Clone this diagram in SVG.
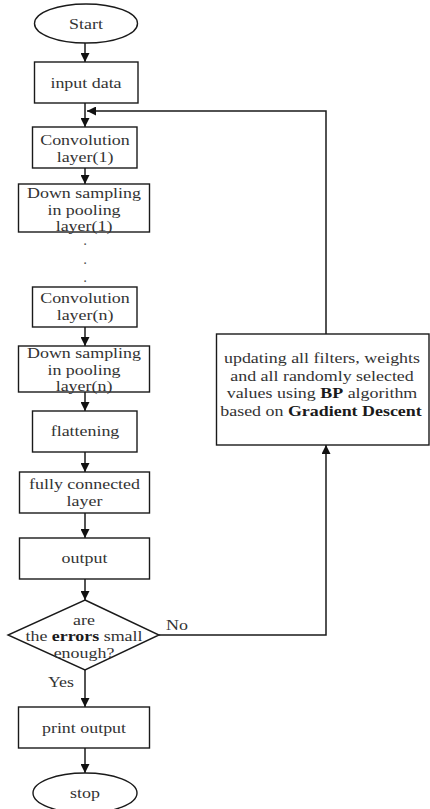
<svg xmlns="http://www.w3.org/2000/svg" width="430" height="809" viewBox="0 0 430 809">
<style>
.box{fill:#ffffff;stroke:#1a1a1a;stroke-width:1.4}
.t{font-family:"Liberation Serif","Times New Roman",serif;font-size:15px;fill:#333333;text-anchor:middle}
.d{font-family:"Liberation Serif","Times New Roman",serif;font-size:11px;font-weight:bold;fill:#555555;text-anchor:middle}
.b{font-weight:bold;fill:#1a1a1a}
.c{fill:none;stroke:#1a1a1a;stroke-width:1.5}
</style>
<defs>
<marker id="ah" viewBox="0 0 10 10" refX="10" refY="5" markerWidth="9" markerHeight="9" markerUnits="userSpaceOnUse" orient="auto">
<path d="M0,0 L10,5 L0,10 z" fill="#111111"/>
</marker>
</defs>
<rect width="430" height="809" fill="#ffffff"/>
<g id="connectors">
<line class="c" x1="85" y1="43" x2="85" y2="62" marker-end="url(#ah)"/>
<line class="c" x1="85" y1="103" x2="85" y2="127" marker-end="url(#ah)"/>
<polyline class="c" points="326,334 326,111 87,111" marker-end="url(#ah)"/>
<line class="c" x1="85" y1="168" x2="85" y2="184" marker-end="url(#ah)"/>
<line class="c" x1="85" y1="327" x2="85" y2="346" marker-end="url(#ah)"/>
<line class="c" x1="85" y1="392" x2="85" y2="411" marker-end="url(#ah)"/>
<line class="c" x1="85" y1="452" x2="85" y2="472" marker-end="url(#ah)"/>
<line class="c" x1="85" y1="513" x2="85" y2="538" marker-end="url(#ah)"/>
<line class="c" x1="85" y1="579" x2="85" y2="600" marker-end="url(#ah)"/>
<line class="c" x1="85" y1="670" x2="85" y2="707" marker-end="url(#ah)"/>
<line class="c" x1="85" y1="748" x2="85" y2="773" marker-end="url(#ah)"/>
<polyline class="c" points="159,635 326,635 326,445" marker-end="url(#ah)"/>
<text class="t" transform="translate(177 630) scale(1.195 1)">No</text>
<text class="t" transform="translate(61 687) scale(1.195 1)">Yes</text>
</g>
<g id="start">
<ellipse class="box" cx="86" cy="23.5" rx="51.5" ry="19.5"/>
<text class="t" transform="translate(86 29) scale(1.195 1)">Start</text>
</g>
<g id="input">
<rect class="box" x="34.5" y="62" width="103.5" height="41"/>
<text class="t" transform="translate(86 88) scale(1.195 1)">input data</text>
</g>
<g id="conv1">
<rect class="box" x="32.5" y="127" width="104.5" height="41"/>
<text class="t" transform="translate(85 145) scale(1.195 1)">Convolution</text>
<text class="t" transform="translate(85 161.5) scale(1.195 1)">layer(1)</text>
</g>
<g id="pool1">
<rect class="box" x="18.5" y="184" width="131" height="48"/>
<text class="t" transform="translate(84 198) scale(1.195 1)">Down sampling</text>
<text class="t" transform="translate(84 214.5) scale(1.195 1)">in pooling</text>
<text class="t" transform="translate(84 231) scale(1.195 1)">layer(1)</text>
</g>
<g id="dots">
<text class="d" x="85" y="245">.</text>
<text class="d" x="85" y="264">.</text>
<text class="d" x="85" y="282">.</text>
</g>
<g id="convn">
<rect class="box" x="32.5" y="287" width="104.5" height="40"/>
<text class="t" transform="translate(85 303) scale(1.195 1)">Convolution</text>
<text class="t" transform="translate(85 320) scale(1.195 1)">layer(n)</text>
</g>
<g id="pooln">
<rect class="box" x="18.5" y="346" width="131" height="46"/>
<text class="t" transform="translate(84 358) scale(1.195 1)">Down sampling</text>
<text class="t" transform="translate(84 374.5) scale(1.195 1)">in pooling</text>
<text class="t" transform="translate(84 391) scale(1.195 1)">layer(n)</text>
</g>
<g id="flatten">
<rect class="box" x="32.5" y="411" width="104.5" height="41"/>
<text class="t" transform="translate(85 436) scale(1.195 1)">flattening</text>
</g>
<g id="fc">
<rect class="box" x="19.5" y="472" width="130" height="41"/>
<text class="t" transform="translate(84.5 489) scale(1.195 1)">fully connected</text>
<text class="t" transform="translate(84.5 506) scale(1.195 1)">layer</text>
</g>
<g id="output">
<rect class="box" x="19.5" y="538" width="130" height="41"/>
<text class="t" transform="translate(84.5 563) scale(1.195 1)">output</text>
</g>
<g id="decision">
<polygon class="box" points="85,600 159,635 85,670 8,635"/>
<text class="t" transform="translate(84 624.5) scale(1.195 1)">are</text>
<text class="t" transform="translate(84 641) scale(1.195 1)">the <tspan class="b">errors</tspan> small</text>
<text class="t" transform="translate(84 657.5) scale(1.195 1)">enough?</text>
</g>
<g id="update">
<rect class="box" x="216.5" y="334" width="212.5" height="111"/>
<text class="t" transform="translate(322 363) scale(1.195 1)">updating all filters, weights</text>
<text class="t" transform="translate(322 380.5) scale(1.195 1)">and all randomly selected</text>
<text class="t" transform="translate(322 398) scale(1.195 1)">values using  <tspan class="b">BP</tspan> algorithm</text>
<text class="t" transform="translate(321 415.5) scale(1.195 1)">based on <tspan class="b">Gradient Descent</tspan></text>
</g>
<g id="print">
<rect class="box" x="18.5" y="707" width="131" height="41"/>
<text class="t" transform="translate(84 733) scale(1.195 1)">print output</text>
</g>
<g id="stop">
<ellipse class="box" cx="85" cy="793" rx="52" ry="20"/>
<text class="t" transform="translate(85 798) scale(1.195 1)">stop</text>
</g>
</svg>
